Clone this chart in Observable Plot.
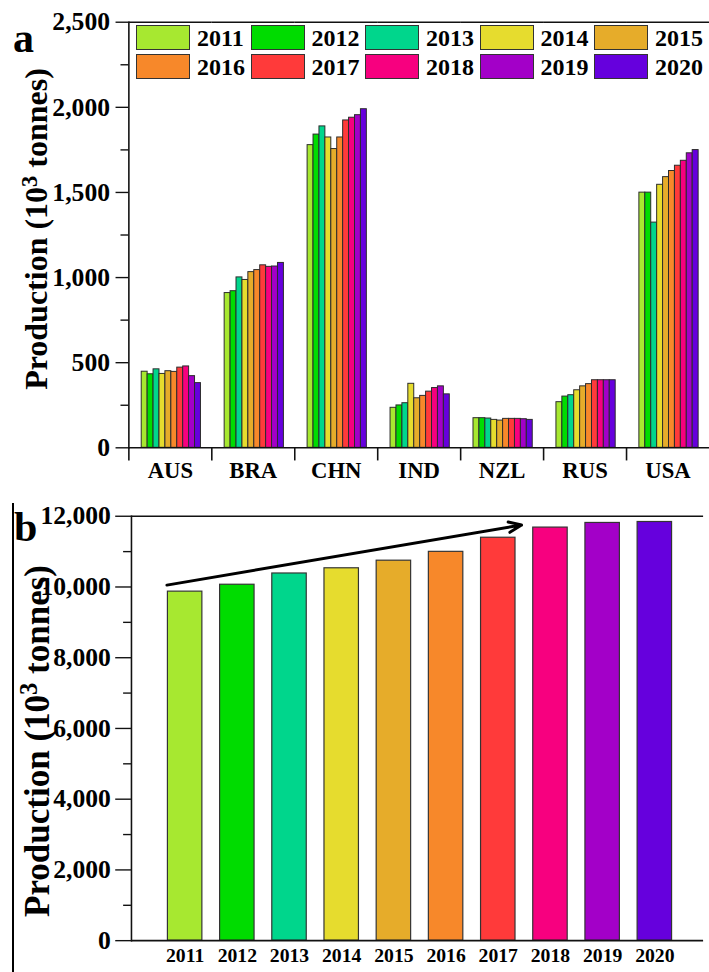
<!DOCTYPE html>
<html>
<head>
<meta charset="utf-8">
<script src="https://cdn.jsdelivr.net/npm/d3@7"></script>
<script src="https://cdn.jsdelivr.net/npm/@observablehq/plot@0.6"></script>
<style>
  html, body { margin: 0; padding: 0; background: #fff; }
  #fig { position: relative; width: 709px; height: 972px; overflow: hidden; font-family: 'Liberation Serif', 'Times New Roman', serif; color: #000; }
  #fig svg { font-family: 'Liberation Serif', 'Times New Roman', serif; }
  .panel { position: absolute; left: 0; }
  .letter { position: absolute; font-weight: bold; font-size: 42px; line-height: 1; }
  .ytitle { position: absolute; font-weight: bold; white-space: nowrap; transform: translate(-50%, -50%) rotate(-90deg); line-height: 1; }
  .ytitle sup { font-size: 0.7em; vertical-align: 0.45em; line-height: 0; }
  #legend { position: absolute; left: 133px; top: 25px; }
  .item { position: absolute; display: flex; align-items: center; }
  .sw { width: 52px; height: 23px; border: 1px solid #333; }
  .lab { margin-left: 7px; font-weight: bold; font-size: 24px; line-height: 1; }
  #bline { position: absolute; left: 12px; top: 503px; width: 1.5px; height: 469px; background: #000; }
</style>
</head>
<body>
<div id="fig">
  <div id="pa" class="panel" style="top:0"></div>
  <div id="pb" class="panel" style="top:500px"></div>
  <div id="legend"></div>
  <div class="letter" style="left:13px; top:17px;">a</div>
  <div class="letter" style="left:14px; top:506px;">b</div>
  <div class="ytitle" style="left:36px; top:229px; font-size:32px;">Production (10<sup>3</sup> tonnes)</div>
  <div class="ytitle" style="left:37px; top:741px; font-size:35px;">Production (10<sup>3</sup> tonnes)</div>
  <div id="bline"></div>
</div>
<script>
// ---- Data ----
const countries = ["AUS", "BRA", "CHN", "IND", "NZL", "RUS", "USA"];
const years = ["2011", "2012", "2013", "2014", "2015", "2016", "2017", "2018", "2019", "2020"];
const colors = ["#a7e830", "#00dc00", "#00d68c", "#e6dc2e", "#e6ac2a", "#f7882a", "#ff3a3a", "#f7007f", "#a300c8", "#6600dd"];

const aus = [447, 432, 461, 434, 450, 446, 471, 478, 421, 380];
const bra = [909, 920, 1001, 986, 1032, 1044, 1072, 1063, 1065, 1086];
const chn = [1778, 1840, 1888, 1823, 1755, 1823, 1923, 1939, 1954, 1989];
const ind = [235, 249, 262, 376, 291, 305, 330, 351, 361, 314];
const nzl = [174, 174, 172, 164, 160, 170, 170, 170, 168, 164];
const rus = [268, 301, 309, 338, 361, 374, 397, 397, 397, 397];
const usa = [1499, 1499, 1323, 1545, 1590, 1626, 1657, 1686, 1730, 1749];

const world = [9869, 10064, 10382, 10529, 10744, 10994, 11393, 11680, 11811, 11838];

const yTicksA = [0, 500, 1000, 1500, 2000, 2500];
const yMinorA = [250, 750, 1250, 1750, 2250];
const yTicksB = [0, 2000, 4000, 6000, 8000, 10000, 12000];
const yMinorB = [1000, 3000, 5000, 7000, 9000, 11000];

const arrowYears = ["2011", "2017"];
const arrowValues = [10140, 11640];

// ---- Tables ----
const series = [aus, bra, chn, ind, nzl, rus, usa];
const rowsA = countries.flatMap((c, ci) => years.map((y, i) => ({country: c, year: y, value: series[ci][i]})));
const rowsB = years.map((y, i) => ({year: y, value: world[i]}));
const arrowRows = [{x1: arrowYears[0], y1: arrowValues[0], x2: arrowYears[1], y2: arrowValues[1]}];

const axisStroke = "#111";
const fmt = d3.format(",");
const blank = () => "";

// ---- Panel a ----
const plotA = Plot.plot({
  width: 718, height: 500,
  marginLeft: 130, marginRight: 0, marginTop: 22, marginBottom: 47,
  fx: {domain: countries, paddingInner: 0, paddingOuter: 0, axis: null},
  x: {domain: years, paddingInner: 0, paddingOuter: 1.176, align: 0.53, axis: null},
  y: {domain: [0, 2500]},
  color: {domain: years, range: colors},
  marks: [
    Plot.barY(rowsA, {fx: "country", x: "year", y: "value", fill: "year", stroke: "#2b2b2b", strokeWidth: 1}),
    Plot.ruleY([0], {stroke: axisStroke, strokeWidth: 1.6}),
    Plot.ruleY([2500], {stroke: axisStroke, strokeWidth: 1.6}),
    Plot.frame({anchor: "left", facetAnchor: "left", stroke: axisStroke, strokeWidth: 1.6}),
    Plot.frame({anchor: "left", insetTop: 431, insetBottom: -12, stroke: axisStroke, strokeWidth: 1.6}),
    Plot.axisY({ticks: yTicksA, tickSize: 13, tickPadding: 6, tickFormat: fmt, fontSize: 26, fontWeight: "bold", label: null, stroke: axisStroke, strokeWidth: 1.4}),
    Plot.axisY({ticks: yMinorA, tickSize: 8, tickFormat: blank, label: null, stroke: axisStroke, strokeWidth: 1.4}),
    Plot.axisFx({anchor: "bottom", tickSize: 0, tickPadding: 14, fontSize: 23, fontWeight: "bold", label: null})
  ]
});
document.getElementById("pa").append(plotA);

// ---- Panel b ----
const plotB = Plot.plot({
  width: 720, height: 472,
  marginLeft: 133, marginRight: 6, marginTop: 16, marginBottom: 25,
  x: {domain: years, insetLeft: 5.3, paddingInner: 1 / 3, paddingOuter: 0.5},
  y: {domain: [0, 12000]},
  color: {domain: years, range: colors},
  marks: [
    Plot.barY(rowsB, {x: "year", y: "value", fill: "year", stroke: "#333", strokeWidth: 1.2}),
    Plot.ruleY([0], {stroke: axisStroke, strokeWidth: 1.6}),
    Plot.ruleY([12000], {stroke: axisStroke, strokeWidth: 1.6}),
    Plot.frame({anchor: "left", stroke: axisStroke, strokeWidth: 1.6}),
    Plot.arrow(arrowRows, {x1: "x1", y1: "y1", x2: "x2", y2: "y2", stroke: "#000", strokeWidth: 3, headLength: 7, headAngle: 45, insetStart: -18.8, insetEnd: -24}),
    Plot.axisY({ticks: yTicksB, tickSize: 16, tickPadding: 5, tickFormat: fmt, fontSize: 26, fontWeight: "bold", label: null, stroke: axisStroke, strokeWidth: 1.4}),
    Plot.axisY({ticks: yMinorB, tickSize: 8, tickFormat: blank, label: null, stroke: axisStroke, strokeWidth: 1.4}),
    Plot.axisX({tickSize: 0, tickPadding: 7, fontSize: 20, fontWeight: "bold", label: null})
  ]
});
document.getElementById("pb").append(plotB);

// ---- Legend (panel a) ----
const legend = document.getElementById("legend");
years.forEach((y, i) => {
  const item = document.createElement("div");
  item.className = "item";
  item.style.left = (3 + (i % 5) * 114.5) + "px";
  item.style.top = (Math.floor(i / 5) * 29) + "px";
  const sw = document.createElement("div");
  sw.className = "sw";
  sw.style.background = colors[i];
  const lab = document.createElement("span");
  lab.className = "lab";
  lab.textContent = y;
  item.append(sw, lab);
  legend.append(item);
});
</script>
</body>
</html>
